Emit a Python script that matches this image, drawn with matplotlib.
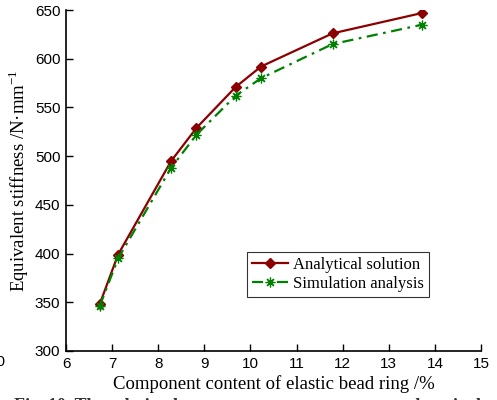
import matplotlib

matplotlib.use("Agg")
import matplotlib.pyplot as plt

# Component content of elastic bead ring (%)
content = [6.73, 7.13, 8.28, 8.83, 9.68, 10.23, 11.78, 13.73]
# Equivalent stiffness (N/mm)
analytical = [348, 399, 495, 529, 571, 592, 626, 647]
simulation = [346, 395, 488, 522, 562, 580, 615, 635]

xticks = [6, 7, 8, 9, 10, 11, 12, 13, 14, 15]
yticks = [300, 350, 400, 450, 500, 550, 600, 650]

serif = "Liberation Serif"
sans = "Liberation Sans"

fig = plt.figure(figsize=(4.97, 4.0), dpi=100)
ax = fig.add_axes([0.1328, 0.1225, 0.835, 0.8525])

ax.plot(content, analytical, color="#8b0000", lw=1.6, marker="D", ms=5,
        label="Analytical solution")
ax.plot(content, simulation, color="#008000", lw=1.6, ls=(0, (5, 2.5, 1.2, 2.5)),
        marker=(8, 2, 0), ms=7, mew=0.9, label="Simulation analysis")

ax.set_xlim(6, 15)
ax.set_ylim(300, 650)
ax.set_xticks(xticks)
ax.set_yticks(yticks)
ax.tick_params(direction="in", length=5, width=1, labelsize=11, pad=4)
for lab in ax.get_xticklabels() + ax.get_yticklabels():
    lab.set_fontfamily(sans)
ax.spines["top"].set_visible(False)
ax.spines["right"].set_visible(False)
for s in ("left", "bottom"):
    ax.spines[s].set_linewidth(1.2)

ax.set_xlabel("Component content of elastic bead ring /%", family=serif,
              fontsize=13.5, labelpad=3)
ax.set_ylabel("Equivalent stiffness /N·mm$^{\\mathregular{-1}}$", family=serif,
              fontsize=13.5, labelpad=3)

leg = ax.legend(loc="lower right", bbox_to_anchor=(0.875, 0.158),
                prop={"family": serif, "size": 12}, frameon=True, fancybox=False,
                edgecolor="black", handlelength=2.2, handletextpad=0.3,
                borderpad=0.3, labelspacing=0.2, borderaxespad=0)
leg.get_frame().set_linewidth(0.8)

fig.text(0.028, -0.027, "Fig. 10  The relation between component content and equivalent stiffness",
         family=serif, weight="bold", fontsize=13, va="baseline", ha="left",
         color="#333333")
fig.text(-0.022, 0.094, "10", family=sans, fontsize=11, va="center", ha="left")

fig.savefig("out.png", dpi=100)
